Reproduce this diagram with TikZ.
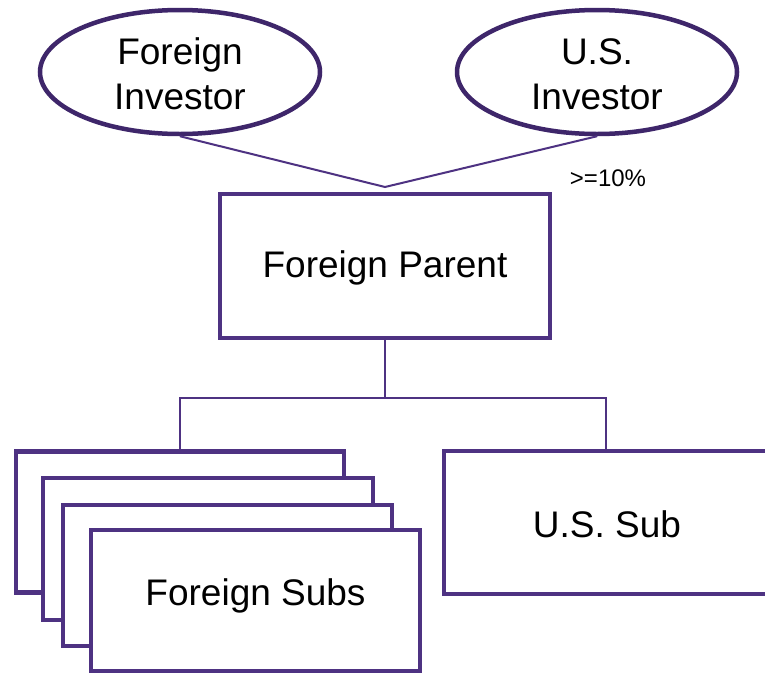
\documentclass[tikz,border=0pt]{standalone}
\usepackage{fontspec}
\setmainfont{Liberation Sans}
\usetikzlibrary{shapes.geometric}
\definecolor{plum}{RGB}{78,50,130}
\definecolor{darkplum}{RGB}{62,38,106}
\tikzset{
  owner/.style={ellipse, draw=darkplum, line width=4.5pt, fill=white,
    minimum width=280pt, minimum height=124pt, inner sep=0pt},
  entity/.style={rectangle, draw=plum, line width=4.5pt, fill=white,
    inner sep=0pt},
  caption/.style={font=\fontsize{37}{45}\selectfont, inner sep=0pt, align=center},
  link/.style={draw=plum, line width=2pt},
}
\begin{document}
\begin{tikzpicture}[x=1pt, y=-1pt]
  \clip (0,0) rectangle (765,675);
  \fill[white] (0,0) rectangle (765,675);

  % shareholders
  \node[owner] (fi) at (180,72) {};
  \node[caption] (filabel) at (180,74) {Foreign\\Investor};
  \node[owner] (usi) at (597,72) {};
  \node[caption] (usilabel) at (597,74) {U.S.\\Investor};
  \coordinate (apex) at (385,187);
  \draw[link] (fi.south) -- (apex) -- (usi.south);
  \node[font=\fontsize{24}{28}\selectfont] (pct) at (608,178) {>=10\%};

  % parent
  \node[entity, minimum width=330pt, minimum height=144pt] (fp) at (385,266) {};
  \node[caption] (fplabel) at (385,268) {Foreign Parent};

  % subsidiaries (stacked)
  \node[entity, minimum width=328pt, minimum height=141pt] (fs1) at (180,522) {};
  \node[entity, minimum width=330pt, minimum height=142pt] (fs2) at (208,549) {};
  \node[entity, minimum width=329pt, minimum height=141pt] (fs3) at (227.5,575.5) {};
  \node[entity, minimum width=329pt, minimum height=141pt] (fs4) at (255.5,600.5) {};
  \node[caption] (fslabel) at (255.5,596) {Foreign Subs};

  \node[entity, minimum width=324pt, minimum height=143pt] (uss) at (606,522.5) {};
  \node[caption] (usslabel) at (607,524) {U.S. Sub};

  % ownership tree
  \coordinate (bus) at (385,398);
  \draw[link] (fp.south) -- (bus);
  \draw[link] (fs1.north) |- (bus) -| (uss.north);
\end{tikzpicture}
\end{document}
